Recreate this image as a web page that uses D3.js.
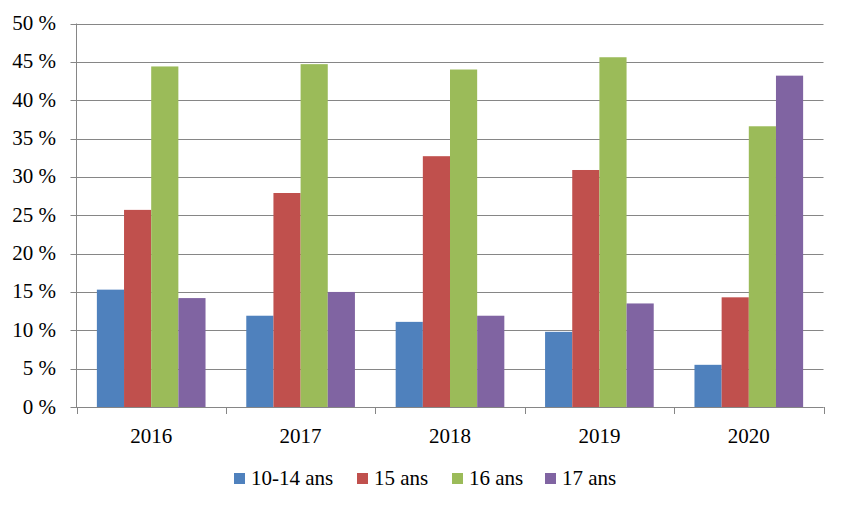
<!DOCTYPE html>
<html><head><meta charset="utf-8">
<script src="https://cdn.jsdelivr.net/npm/d3@7"></script>
<style>body{margin:0;background:#fff}svg{display:block}
svg text{font-family:"Liberation Serif","Times New Roman","DejaVu Serif",serif;font-size:21px;fill:#000}</style>
</head><body>
<svg id="c" width="847" height="511"></svg>
<script>
const categories = ["2016","2017","2018","2019","2020"];
const seriesNames = ["10-14 ans","15 ans","16 ans","17 ans"];
const colors = ["#4f81bd","#c0504d","#9bbb59","#8064a2"];
const values = [
  [15.3, 11.9, 11.1, 9.8, 5.5],
  [25.7, 27.9, 32.7, 30.9, 14.3],
  [44.4, 44.7, 44.0, 45.6, 36.6],
  [14.2, 15.0, 11.9, 13.5, 43.2]
];
const yTicks = [0,5,10,15,20,25,30,35,40,45,50];

const svg = d3.select("#c");
const L = 76.5, R = 823.5, T = 23.5, B = 407;
const x = d3.scaleBand().domain(categories).range([L, R]).paddingInner(0).paddingOuter(0);
const y = d3.scaleLinear().domain([0,50]).range([B, T]);
const inner = d3.scaleBand().domain(d3.range(4)).range([0, x.bandwidth()]).paddingInner(0).paddingOuter(0.75);

// gridlines
svg.append("g").selectAll("line").data(yTicks).join("line")
  .attr("x1", L-6).attr("x2", R).attr("y1", d=>Math.round(y(d))+0.5).attr("y2", d=>Math.round(y(d))+0.5)
  .attr("stroke", "#868686").attr("stroke-width", 1);

// bars
seriesNames.forEach((s,i)=>{
  svg.append("g").selectAll("rect").data(values[i]).join("rect")
    .attr("x", (d,j)=>x(categories[j]) + inner(i))
    .attr("width", inner.bandwidth())
    .attr("y", d=>y(d))
    .attr("height", d=>B - y(d))
    .attr("fill", colors[i]);
});

// axes
svg.append("line").attr("x1", L).attr("x2", L).attr("y1", T).attr("y2", B).attr("stroke", "#868686");
svg.append("line").attr("x1", L).attr("x2", R).attr("y1", B+0.5).attr("y2", B+0.5).attr("stroke", "#868686");
const bounds = categories.map(c=>x(c)).concat([R]);
svg.append("g").selectAll("line").data(bounds).join("line")
  .attr("x1", d=>Math.round(d)+0.5).attr("x2", d=>Math.round(d)+0.5).attr("y1", B).attr("y2", B+7)
  .attr("stroke", "#868686");

// y labels
svg.append("g").selectAll("text").data(yTicks).join("text")
  .attr("x", 56).attr("y", d=>y(d)+6.5).attr("text-anchor","end")
  .text(d=>d+" %");

// x labels
svg.append("g").selectAll("text").data(categories).join("text")
  .attr("x", d=>x(d)+x.bandwidth()/2).attr("y", 443).attr("text-anchor","middle")
  .text(d=>d);

// legend
const legX = [234, 357, 452, 545];
const lg = svg.append("g");
seriesNames.forEach((s,i)=>{
  lg.append("rect").attr("x", legX[i]).attr("y", 473).attr("width", 11).attr("height", 11).attr("fill", colors[i]);
  lg.append("text").attr("x", legX[i]+17).attr("y", 485).text(s);
});
</script>
</body></html>
